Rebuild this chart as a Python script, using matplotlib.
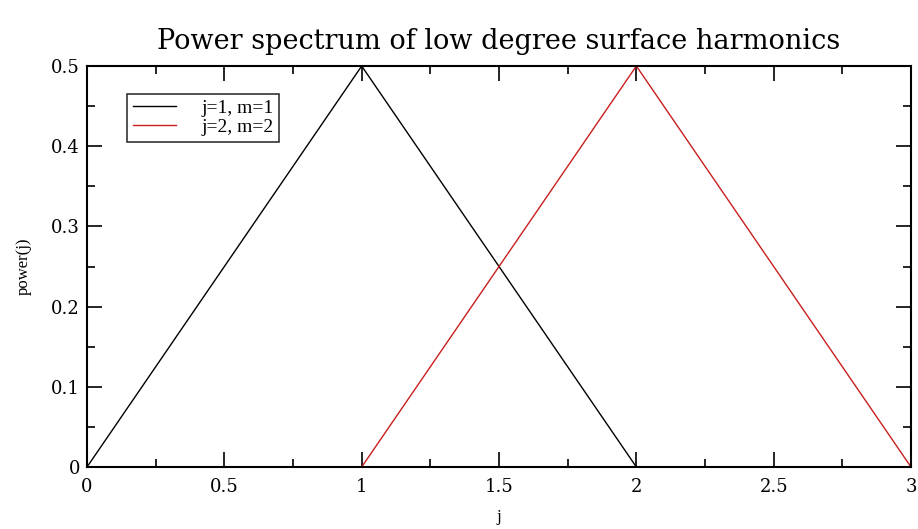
import matplotlib.pyplot as plt
from matplotlib.ticker import MultipleLocator

# power spectrum of the two low degree harmonics
j = [0, 1, 2, 3]
power_j1 = [0, 0.5, 0, 0]
power_j2 = [0, 0, 0.5, 0]
labels = ["j=1, m=1", "j=2, m=2"]

fig = plt.figure(figsize=(9.18, 5.29), dpi=100)
ax = fig.add_axes([0.0948, 0.1172, 0.8976, 0.758])

ax.plot(j, power_j1, color="black", lw=1.0, label=labels[0])
ax.plot(j, power_j2, color="#c81e1e", lw=1.0, label=labels[1])

ax.set_xlim(0, 3)
ax.set_ylim(0, 0.5)
ax.xaxis.set_major_locator(MultipleLocator(0.5))
ax.xaxis.set_minor_locator(MultipleLocator(0.25))
ax.yaxis.set_major_locator(MultipleLocator(0.1))
ax.yaxis.set_minor_locator(MultipleLocator(0.05))
ax.tick_params(which="both", direction="in", top=True, right=True, width=1.2)
ax.tick_params(which="major", length=11)
ax.tick_params(axis="x", which="major", pad=8)
ax.tick_params(axis="y", which="major", pad=5)
ax.tick_params(which="minor", length=6)
ax.set_xticks([0, 0.5, 1, 1.5, 2, 2.5, 3])
ax.set_xticklabels(["0", "0.5", "1", "1.5", "2", "2.5", "3"])
ax.set_yticks([0, 0.1, 0.2, 0.3, 0.4, 0.5])
ax.set_yticklabels(["0", "0.1", "0.2", "0.3", "0.4", "0.5"])
for lab in ax.get_xticklabels() + ax.get_yticklabels():
    lab.set_family("DejaVu Serif")
    lab.set_fontsize(13)
for s in ax.spines.values():
    s.set_linewidth(1.5)

ax.set_xlabel("j", family="Liberation Serif", fontsize=12, labelpad=9)
ax.set_ylabel("power(j)", family="Liberation Serif", fontsize=12, labelpad=14)
fig.suptitle("Power spectrum of low degree surface harmonics",
             family="DejaVu Serif", fontsize=19.5, x=0.543, y=0.948)

leg = ax.legend(loc="upper left", bbox_to_anchor=(0.037, 0.955), frameon=True,
                fancybox=False, edgecolor="black", handlelength=2.2,
                handletextpad=1.3, borderpad=0.3, labelspacing=0.05,
                prop={"family": "Liberation Serif", "size": 14})
leg.get_frame().set_linewidth(1.2)

fig.savefig("out.png", dpi=100)
